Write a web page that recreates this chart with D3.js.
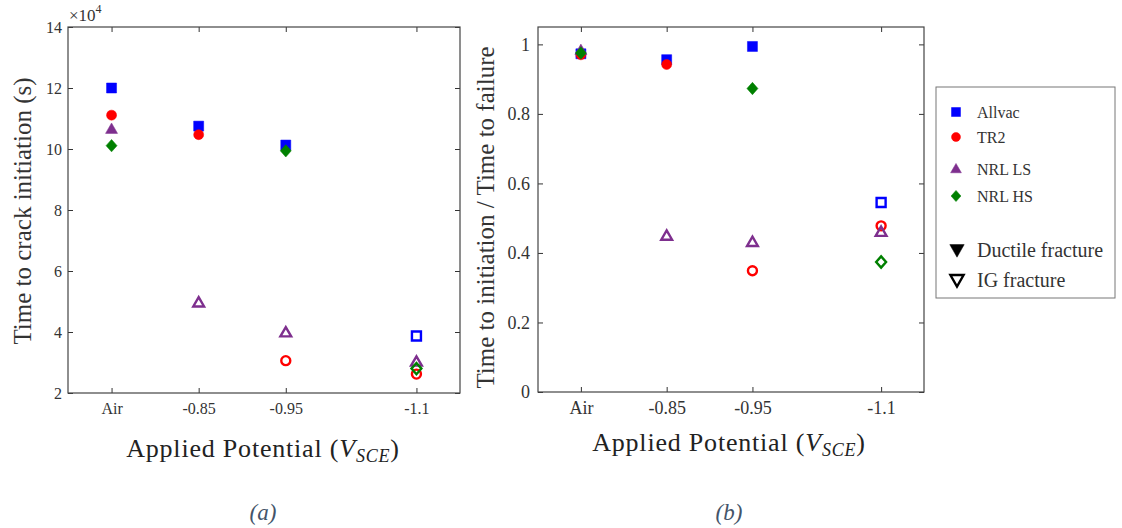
<!DOCTYPE html>
<html>
<head>
<meta charset="utf-8">
<script src="https://cdn.jsdelivr.net/npm/d3@7"></script>
<style>
  body { margin: 0; background: #fff; }
  svg { display: block; font-family: 'Liberation Serif', serif; }
  svg text { font-family: 'Liberation Serif', serif; }
  .tick text { fill: #333; }
  text.caption { font-family: 'Liberation Serif', serif; }
</style>
</head>
<body>
<svg id="chart" width="1122" height="528"></svg>
<script>
// categories (Air plotted at -0.75 so the spacing follows the potential)
const potentials = ["Air", "-0.85", "-0.95", "-1.1"];
const potentialX = [-0.75, -0.85, -0.95, -1.1];

// time to crack initiation (x1e4 s)
const initAllvac = [12.0, 10.75, 10.13, 3.87];
const initTR2 = [11.11, 10.47, 3.06, 2.62];
const initNRLLS = [10.65, 4.96, 3.98, 3.02];
const initNRLHS = [10.11, null, 9.94, 2.8];

// time to initiation / time to failure
const ratioAllvac = [0.973, 0.956, 0.994, 0.545];
const ratioTR2 = [0.97, 0.942, 0.349, 0.478];
const ratioNRLLS = [0.983, 0.449, 0.431, 0.46];
const ratioNRLHS = [0.975, null, 0.873, 0.374];

// fracture type per point: D = ductile (filled), IG = intergranular (open)
const fracAllvac = ["D", "D", "D", "IG"];
const fracTR2 = ["D", "D", "IG", "IG"];
const fracNRLLS = ["D", "IG", "IG", "IG"];
const fracNRLHS = ["D", null, "D", "IG"];

const seriesNames = ["Allvac", "TR2", "NRL LS", "NRL HS"];
const seriesColors = ["#0000ff", "#ff0000", "#7e2f8e", "#008000"];
const seriesShapes = ["square", "circle", "triangle", "diamond"];
const leftTicks = [2, 4, 6, 8, 10, 12, 14];
const rightTicks = [0, 0.2, 0.4, 0.6, 0.8, 1];

const svg = d3.select("#chart");

function markerPath(shape, s) {
    const h = s / 2;
    if (shape === "square") return `M${-h},${-h}H${h}V${h}H${-h}Z`;
    if (shape === "circle") return d3.symbol(d3.symbolCircle, Math.PI * h * h)();
    if (shape === "triangle") return `M0,${-s * 0.62}L${s * 0.6},${s * 0.42}L${-s * 0.6},${s * 0.42}Z`;
    if (shape === "diamond") return `M0,${-s * 0.62}L${s * 0.55},0L0,${s * 0.62}L${-s * 0.55},0Z`;
    if (shape === "down") return `M${-s * 0.6},${-s * 0.45}L${s * 0.6},${-s * 0.45}L0,${s * 0.6}Z`;
}

function drawMarker(g, shape, color, open, x, y, s) {
    g.append("path")
        .attr("transform", `translate(${x},${y})`)
        .attr("d", markerPath(shape, open ? s - 1 : s))
        .attr("fill", open ? "none" : color)
        .attr("stroke", color)
        .attr("stroke-width", open ? 2.4 : 0.5);
}

function drawPanel(p) {
    const x = d3.scaleLinear().domain([-0.70, -1.15]).range([p.left, p.right]);
    const y = d3.scaleLinear().domain(p.yDomain).range([p.bottom, p.top]);
    const g = svg.append("g");

    const fmt = (d, i) => potentials[i];
    g.append("g").attr("transform", `translate(0,${p.bottom})`)
        .call(d3.axisBottom(x).tickValues(potentialX).tickFormat(fmt).tickSizeInner(-5).tickSizeOuter(0).tickPadding(p.xPad))
        .call(a => a.selectAll("text").attr("font-size", p.tickFont).attr("font-family", null))
        .call(a => a.attr("font-family", null))
        .call(a => a.select(".domain").remove());
    g.append("g").attr("transform", `translate(0,${p.top})`)
        .call(d3.axisTop(x).tickValues(potentialX).tickFormat("").tickSizeInner(-5).tickSizeOuter(0))
        .call(a => a.select(".domain").remove());
    g.append("g").attr("transform", `translate(${p.left},0)`)
        .call(d3.axisLeft(y).tickValues(p.yTicks).tickFormat(d3.format("~g")).tickSizeInner(-5).tickSizeOuter(0).tickPadding(p.yPad))
        .call(a => a.selectAll("text").attr("font-size", p.tickFont))
        .call(a => a.attr("font-family", null))
        .call(a => a.select(".domain").remove());
    g.append("g").attr("transform", `translate(${p.right},0)`)
        .call(d3.axisRight(y).tickValues(p.yTicks).tickFormat("").tickSizeInner(-5).tickSizeOuter(0))
        .call(a => a.select(".domain").remove());
    g.selectAll(".tick line").attr("stroke", "#333");

    g.append("rect")
        .attr("x", p.left).attr("y", p.top)
        .attr("width", p.right - p.left).attr("height", p.bottom - p.top)
        .attr("fill", "none").attr("stroke", "#444").attr("stroke-width", 1.2);

    p.values.forEach((vals, si) => {
        vals.forEach((v, i) => {
            if (v == null) return;
            drawMarker(g, seriesShapes[si], seriesColors[si], p.frac[si][i] === "IG",
                x(potentialX[i]), y(v), 10);
        });
    });

    g.append("text")
        .attr("transform", `translate(${p.yLabelX},${(p.top + p.bottom) / 2 + p.yLabelShift}) rotate(-90)`)
        .attr("text-anchor", "middle")
        .attr("font-size", 25).attr("fill", "#333")
        .text(p.yLabel);

    const xl = g.append("text")
        .attr("x", p.xLabelX).attr("y", p.xLabelY)
        .attr("text-anchor", "middle")
        .attr("font-size", 26).attr("fill", "#222")
        .attr("letter-spacing", 0.8);
    xl.append("tspan").text("Applied Potential (");
    xl.append("tspan").attr("font-style", "italic").text("V");
    xl.append("tspan").attr("font-style", "italic").attr("font-size", 18).attr("dy", 5).text("SCE");
    xl.append("tspan").attr("dy", -5).text(")");

    g.append("text")
        .attr("class", "caption")
        .attr("x", p.xLabelX).attr("y", 520)
        .attr("text-anchor", "middle")
        .attr("font-style", "italic")
        .attr("font-size", 23).attr("fill", "#44546a")
        .text(p.caption);
    return g;
}

const left = drawPanel({
    left: 68, right: 460, top: 27, bottom: 393,
    yDomain: [2, 14], yTicks: leftTicks, tickFont: 16, xPad: 10, yPad: 6,
    values: [initAllvac, initTR2, initNRLLS, initNRLHS],
    frac: [fracAllvac, fracTR2, fracNRLLS, fracNRLHS],
    yLabel: "Time to crack initiation (s)", yLabelX: 31, yLabelShift: 1,
    xLabelX: 263, xLabelY: 457, caption: "(a)"
});

left.append("text")
    .attr("x", 69).attr("y", 21)
    .attr("font-size", 17).attr("fill", "#333")
    .text("×10")
    .append("tspan").attr("dy", -8).attr("font-size", 12).text("4");

drawPanel({
    left: 538, right: 924, top: 27, bottom: 392,
    yDomain: [0, 1.05], yTicks: rightTicks, tickFont: 18, xPad: 9, yPad: 8,
    values: [ratioAllvac, ratioTR2, ratioNRLLS, ratioNRLHS],
    frac: [fracAllvac, fracTR2, fracNRLLS, fracNRLHS],
    yLabel: "Time to initiation / Time to failure", yLabelX: 494, yLabelShift: 8,
    xLabelX: 729, xLabelY: 451, caption: "(b)"
});

// legend
const lg = svg.append("g");
lg.append("rect")
    .attr("x", 936).attr("y", 87).attr("width", 179).attr("height", 211)
    .attr("fill", "#fff").attr("stroke", "#777").attr("stroke-width", 1);
const legendY = [112, 137, 169, 196];
seriesNames.forEach((name, i) => {
    drawMarker(lg, seriesShapes[i], seriesColors[i], false, 956, legendY[i], 9);
    lg.append("text")
        .attr("x", 977).attr("y", legendY[i]).attr("dy", "0.35em")
        .attr("font-size", 16).attr("fill", "#333")
        .text(name);
});
const fracNames = ["Ductile fracture", "IG fracture"];
const fracY = [250, 280];
fracNames.forEach((name, i) => {
    drawMarker(lg, "down", "#000", i === 1, 957, fracY[i], 12);
    lg.append("text")
        .attr("x", 977).attr("y", fracY[i]).attr("dy", "0.35em")
        .attr("font-size", 20).attr("fill", "#333")
        .text(name);
});
</script>
</body>
</html>
